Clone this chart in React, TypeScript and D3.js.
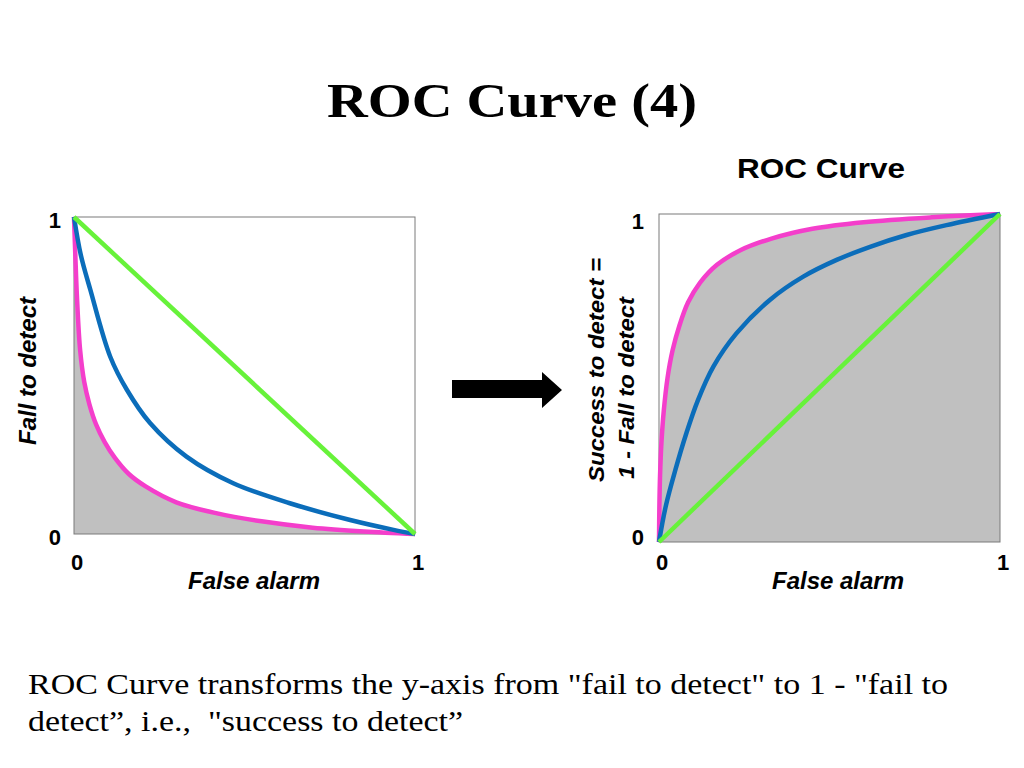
import React from "react";
import * as d3 from "d3";

// Left panel: "Fall to detect" vs "False alarm"
const leftPinkX = [0, 0.004, 0.009, 0.018, 0.03, 0.045, 0.065, 0.09, 0.12, 0.16, 0.21, 0.3, 0.42, 0.55, 0.7, 0.85, 1];
const leftPinkY = [1, 0.876, 0.74, 0.58, 0.48, 0.41, 0.345, 0.29, 0.24, 0.19, 0.15, 0.1, 0.065, 0.04, 0.02, 0.008, 0];
const leftBlueX = [0, 0.02, 0.048, 0.106, 0.155, 0.223, 0.33, 0.467, 0.633, 0.81, 0.937, 1];
const leftBlueY = [1, 0.88, 0.77, 0.56, 0.455, 0.35, 0.244, 0.16, 0.097, 0.044, 0.013, 0];
const leftGreenX = [0, 1];
const leftGreenY = [1, 0];

// Right panel: ROC curve "Success to detect" vs "False alarm"
const rightPinkX = [0, 0.001, 0.003, 0.007, 0.014, 0.025, 0.04, 0.06, 0.085, 0.12, 0.17, 0.24, 0.33, 0.45, 0.6, 0.8, 1];
const rightPinkY = [0, 0.1, 0.2, 0.3, 0.4, 0.5, 0.585, 0.66, 0.73, 0.79, 0.845, 0.89, 0.925, 0.955, 0.975, 0.99, 1];
const rightBlueX = [0, 0.02, 0.048, 0.08, 0.114, 0.159, 0.227, 0.325, 0.423, 0.521, 0.619, 0.726, 0.843, 1];
const rightBlueY = [0, 0.11, 0.22, 0.331, 0.432, 0.534, 0.636, 0.738, 0.809, 0.86, 0.9, 0.936, 0.966, 1];
const rightGreenX = [0, 1];
const rightGreenY = [0, 1];

const tickValues = [0, 1];
const tickLabels = ["0", "1"];

const PINK = "#F43ECB";
const BLUE = "#0B6DBA";
const GREEN = "#67F23A";
const GRAY = "#C0C0C0";
const SANS = "Liberation Sans, Arial, sans-serif";
const SERIF = "Liberation Serif, Times New Roman, serif";

type Pt = [number, number];
const zip = (xs: number[], ys: number[]): Pt[] => xs.map((x, i) => [x, ys[i]]);

function Panel(props: {
  x0: number; x1: number; y0: number; y1: number;
  pink: Pt[]; blue: Pt[]; green: Pt[];
  yTickX: number; yTickOff: number[]; xTickY: number; xLabelX: number;
}) {
  const { x0, x1, y0, y1, pink, blue, green, yTickX, yTickOff, xTickY, xLabelX } = props;
  const sx = d3.scaleLinear().domain([0, 1]).range([x0, x1]);
  const sy = d3.scaleLinear().domain([0, 1]).range([y1, y0]);
  const curve = d3.curveCatmullRom.alpha(0.5);
  const line = d3.line<Pt>().x(d => sx(d[0])).y(d => sy(d[1])).curve(curve);
  const area = d3.area<Pt>().x(d => sx(d[0])).y0(sy(0)).y1(d => sy(d[1])).curve(curve);
  const lw = 4.5;
  return (
    <g>
      <defs>
        <clipPath id={"clip" + x0}>
          <rect x={x0} y={y0} width={x1 - x0} height={y1 - y0} />
        </clipPath>
      </defs>
      <rect x={x0} y={y0} width={x1 - x0} height={y1 - y0} fill="#fff" stroke="none" />
      <path d={area(pink) || ""} fill={GRAY} clipPath={`url(#clip${x0})`} />
      <rect x={x0} y={y0} width={x1 - x0} height={y1 - y0} fill="none" stroke="#7a7a7a" strokeWidth={1} />
      <path d={line(pink) || ""} fill="none" stroke={PINK} strokeWidth={lw} />
      <path d={line(blue) || ""} fill="none" stroke={BLUE} strokeWidth={lw} />
      <path d={line(green) || ""} fill="none" stroke={GREEN} strokeWidth={lw} />
      {tickValues.map((v, i) => (
        <text key={"y" + i} x={yTickX} y={sy(v) + yTickOff[i]} dy="0.36em" textAnchor="end"
          fontFamily={SANS} fontWeight="bold" fontSize={22}>{tickLabels[i]}</text>
      ))}
      {tickValues.map((v, i) => (
        <text key={"x" + i} x={sx(v) + 3} y={xTickY} textAnchor="middle"
          fontFamily={SANS} fontWeight="bold" fontSize={22}>{tickLabels[i]}</text>
      ))}
      <text x={xLabelX} y={589} fontFamily={SANS} textLength={132} lengthAdjust="spacingAndGlyphs"
        fontWeight="bold" fontStyle="italic" fontSize={23}>False alarm</text>
    </g>
  );
}

export default function App() {
  return (
    <div style={{ position: "absolute", left: 0, top: 0 }}>
      <svg width={1024} height={768} style={{ display: "block", background: "#fff" }}>
        <rect width={1024} height={768} fill="#fff" />
        <text x={327} y={117} textLength={370} lengthAdjust="spacingAndGlyphs"
          fontFamily={SERIF} fontWeight="bold" fontSize={49}>
          ROC Curve (4)
        </text>
        <text x={737} y={178} textLength={168} lengthAdjust="spacingAndGlyphs"
          fontFamily={SANS} fontWeight="bold" fontSize={28}>
          ROC Curve
        </text>

        <Panel x0={74} x1={415} y0={217} y1={534}
          pink={zip(leftPinkX, leftPinkY)} blue={zip(leftBlueX, leftBlueY)} green={zip(leftGreenX, leftGreenY)}
          yTickX={61} yTickOff={[3, 3]} xTickY={570} xLabelX={188} />
        <text transform="translate(36,445) rotate(-90)" textLength={148} lengthAdjust="spacingAndGlyphs"
          fontFamily={SANS} fontWeight="bold" fontStyle="italic" fontSize={23}>Fall to detect</text>

        <Panel x0={659} x1={1000} y0={214} y1={542}
          pink={zip(rightPinkX, rightPinkY)} blue={zip(rightBlueX, rightBlueY)} green={zip(rightGreenX, rightGreenY)}
          yTickX={644} yTickOff={[-5, 7]} xTickY={570} xLabelX={772} />
        <text transform="translate(604,482) rotate(-90)" textLength={224} lengthAdjust="spacingAndGlyphs"
          fontFamily={SANS} fontWeight="bold" fontStyle="italic" fontSize={22}>Success to detect =</text>
        <text transform="translate(634,479) rotate(-90)" textLength={182} lengthAdjust="spacingAndGlyphs"
          fontFamily={SANS} fontWeight="bold" fontStyle="italic" fontSize={22}>1 - Fall to detect</text>

        <polygon points="452,380 542,380 542,372 562,390 542,408 542,398 452,398" fill="#000" />

        <text x={28} y={694} textLength={920} lengthAdjust="spacingAndGlyphs" fontFamily={SERIF} fontSize={29}>
          ROC Curve transforms the y-axis from "fail to detect" to 1 - "fail to
        </text>
        <text x={28} y={731} textLength={435} lengthAdjust="spacingAndGlyphs" fontFamily={SERIF} fontSize={29}
          style={{ whiteSpace: "pre" }}>
          {"detect”, i.e.,  \"success to detect”"}
        </text>
      </svg>
    </div>
  );
}
